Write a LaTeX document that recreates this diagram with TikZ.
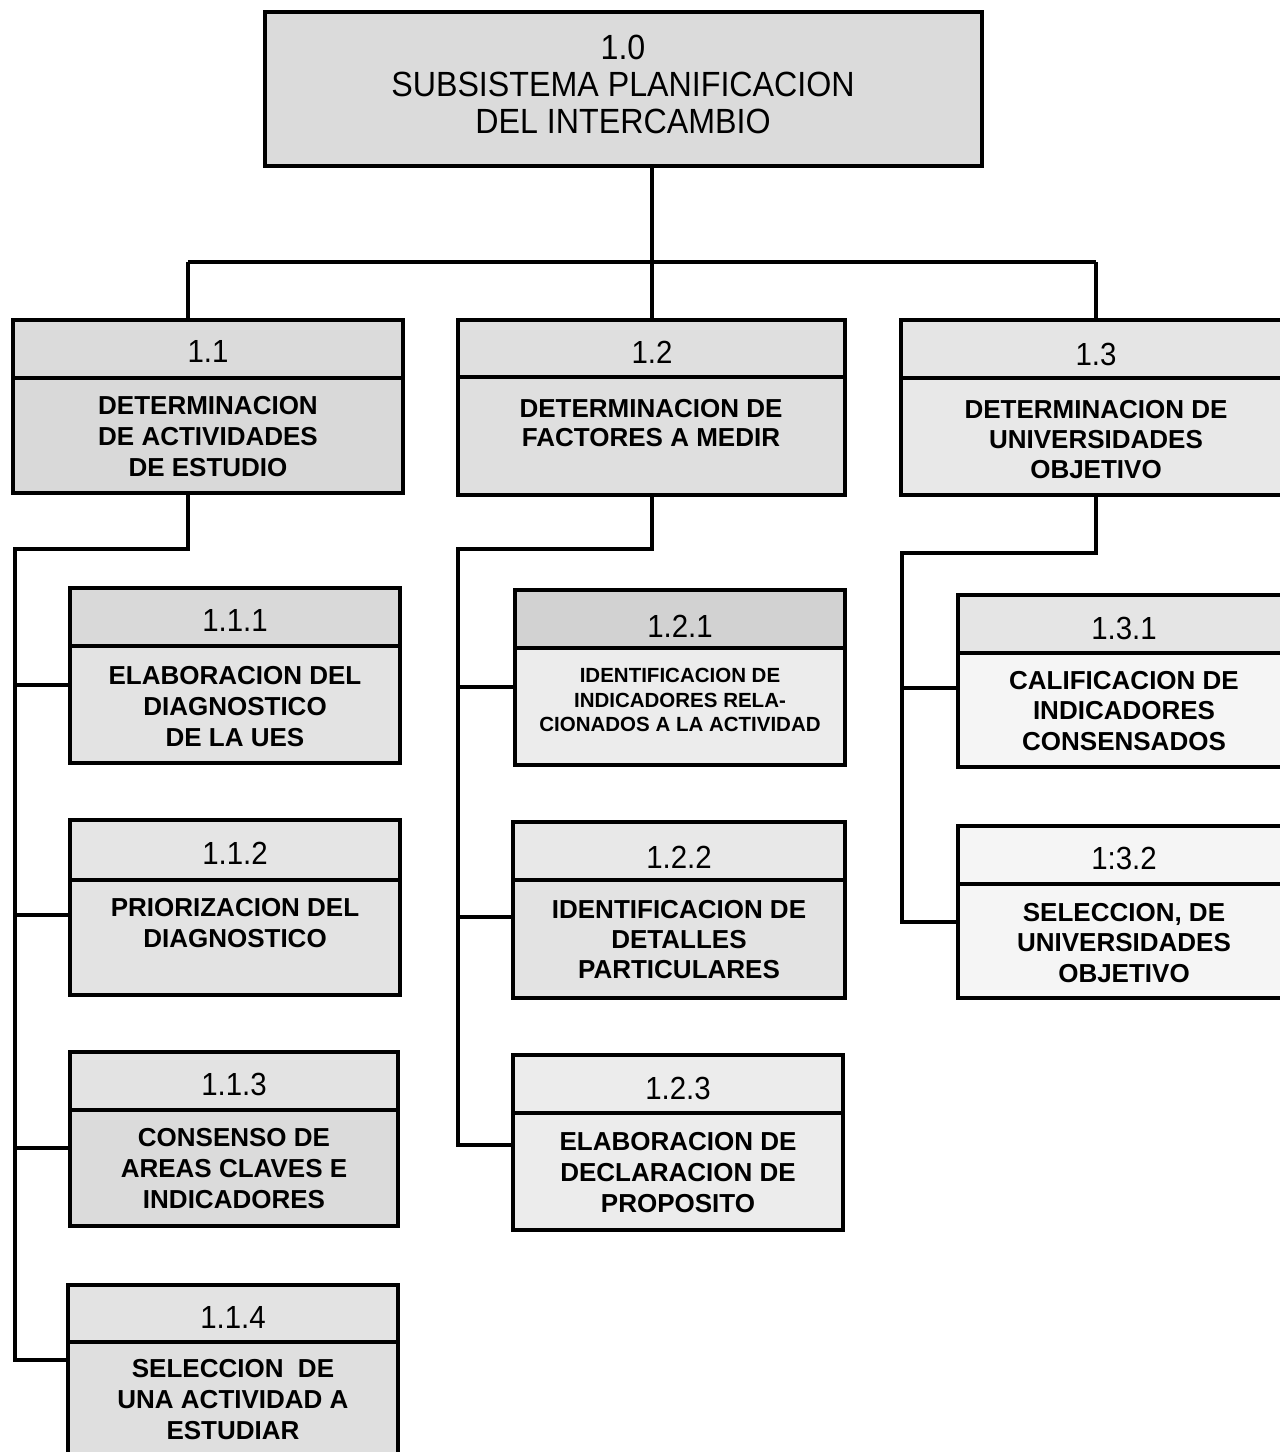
\documentclass[tikz,border=0pt]{standalone}
\usepackage{fontspec}
\setmainfont{Liberation Sans}
\newfontfamily\numfont[FakeStretch=0.92]{Liberation Sans}
\usetikzlibrary{fit}

% box with a header band and a body: name, x1, y1, x2, y2, divider y, header fill, body fill
\newcommand\wbsbox[8]{%
  \fill[#7] (#2,#3) rectangle (#4,#6);
  \fill[#8] (#2,#6) rectangle (#4,#5);
  \node[frame, fit={(#2,#3) (#4,#5)}] (#1) {};
  \draw[divider] (#1.west |- 0,#6) -- (#1.east |- 0,#6);
}

\begin{document}
\begin{tikzpicture}[x=1pt,y=-1pt,
  frame/.style={draw=black, line width=4pt, inner sep=0pt, outer sep=0pt},
  divider/.style={draw=black, line width=4pt},
  link/.style={draw=black, line width=4.5pt, line join=miter},
  num/.style={font=\numfont\fontsize{32}{36}\selectfont, inner sep=0pt},
  toptxt/.style={font=\numfont\fontsize{35}{37}\selectfont, align=center, inner sep=0pt},
  txt/.style={font=\bfseries\fontsize{26}{31}\selectfont, align=center, inner sep=0pt},
  smalltxt/.style={font=\bfseries\fontsize{20.5}{24.5}\selectfont, align=center, inner sep=0pt}]

\useasboundingbox (0,0) rectangle (1280,1452);
\fill[white] (0,0) rectangle (1280,1452);

% ---- level 0 ----
\wbsbox{b10}{265}{12}{982}{166}{166}{gray!28}{gray!28}
\node[toptxt] (b10t) at (623,84) {1.0\\SUBSISTEMA PLANIFICACION\\DEL INTERCAMBIO};

% ---- level 1 ----
\wbsbox{b11}{13}{320}{403}{493}{378}{gray!28}{gray!30}
\node[num] (b11n) at (208,351) {1.1};
\node[txt] (b11t) at (208,437) {DETERMINACION\\DE ACTIVIDADES\\DE ESTUDIO};

\wbsbox{b12}{458}{320}{845}{495}{377}{gray!25}{gray!25}
\node[num] (b12n) at (652,352) {1.2};
\node[txt, font=\bfseries\fontsize{26}{29}\selectfont] (b12t) at (651,423) {DETERMINACION DE\\FACTORES A MEDIR};

\wbsbox{b13}{901}{320}{1292}{495}{378}{gray!20}{gray!18}
\node[num] (b13n) at (1096,354) {1.3};
\node[txt, font=\bfseries\fontsize{26}{30}\selectfont] (b13t) at (1096,440) {DETERMINACION DE\\UNIVERSIDADES\\OBJETIVO};

% ---- level 2 under 1.1 ----
\wbsbox{b111}{70}{588}{400}{763}{646}{gray!30}{gray!22}
\node[num] (b111n) at (235,620) {1.1.1};
\node[txt] (b111t) at (235,707) {ELABORACION DEL\\DIAGNOSTICO\\DE LA UES};

\wbsbox{b112}{70}{820}{400}{995}{880}{gray!20}{gray!22}
\node[num] (b112n) at (235,853) {1.1.2};
\node[txt] (b112t) at (235,923) {PRIORIZACION DEL\\DIAGNOSTICO};

\wbsbox{b113}{70}{1052}{398}{1226}{1110}{gray!22}{gray!28}
\node[num] (b113n) at (234,1084) {1.1.3};
\node[txt] (b113t) at (234,1169) {CONSENSO DE\\AREAS CLAVES E\\INDICADORES};

\wbsbox{b114}{68}{1285}{398}{1475}{1342}{gray!22}{gray!25}
\node[num] (b114n) at (233,1317) {1.1.4};
\node[txt] (b114t) at (233,1400) {SELECCION\ \ DE\\UNA ACTIVIDAD A\\ESTUDIAR};

% ---- level 2 under 1.2 ----
\wbsbox{b121}{515}{590}{845}{765}{648}{gray!35}{gray!15}
\node[num] (b121n) at (680,626) {1.2.1};
\node[smalltxt] (b121t) at (680,700) {IDENTIFICACION DE\\INDICADORES RELA-\\CIONADOS A LA ACTIVIDAD};

\wbsbox{b122}{513}{822}{845}{998}{880}{gray!18}{gray!22}
\node[num] (b122n) at (679,857) {1.2.2};
\node[txt, font=\bfseries\fontsize{26}{30}\selectfont] (b122t) at (679,940) {IDENTIFICACION DE\\DETALLES\\PARTICULARES};

\wbsbox{b123}{513}{1055}{843}{1230}{1113}{gray!15}{gray!15}
\node[num] (b123n) at (678,1088) {1.2.3};
\node[txt] (b123t) at (678,1173) {ELABORACION DE\\DECLARACION DE\\PROPOSITO};

% ---- level 2 under 1.3 ----
\wbsbox{b131}{958}{595}{1292}{767}{653}{gray!20}{gray!8}
\node[num] (b131n) at (1124,628) {1.3.1};
\node[txt, font=\bfseries\fontsize{26}{30.5}\selectfont] (b131t) at (1124,711) {CALIFICACION DE\\INDICADORES\\CONSENSADOS};

\wbsbox{b132}{958}{826}{1292}{998}{884}{gray!8}{gray!8}
\node[num] (b132n) at (1124,858) {1:3.2};
\node[txt, font=\bfseries\fontsize{26}{30.5}\selectfont] (b132t) at (1124,943) {SELECCION, DE\\UNIVERSIDADES\\OBJETIVO};

% ---- connectors: level 0 to level 1 ----
\coordinate (j0) at (652,262);
\coordinate (j0l) at (188,262);
\coordinate (j0r) at (1096,262);
\draw[link] (b10.south -| j0) -- (j0);
\draw[link] (j0l) -- (j0r);
\draw[link] (j0l) -- (j0l |- b11.north);
\draw[link] (j0) -- (j0 |- b12.north);
\draw[link] (j0r) -- (j0r |- b13.north);

% ---- connectors under 1.1 ----
\coordinate (k1) at (188,549);
\coordinate (c1) at (15,549);
\coordinate (s111) at (15,685);
\coordinate (s112) at (15,915);
\coordinate (s113) at (15,1148);
\coordinate (s114) at (15,1360);
\draw[link] (k1 |- b11.south) -- (k1) -- (c1) -- (s114) -- (s114 -| b114.west);
\draw[link] (s111) -- (s111 -| b111.west);
\draw[link] (s112) -- (s112 -| b112.west);
\draw[link] (s113) -- (s113 -| b113.west);

% ---- connectors under 1.2 ----
\coordinate (k2) at (652,549);
\coordinate (c2) at (458,549);
\coordinate (s121) at (458,687);
\coordinate (s122) at (458,917);
\coordinate (s123) at (458,1145);
\draw[link] (k2 |- b12.south) -- (k2) -- (c2) -- (s123) -- (s123 -| b123.west);
\draw[link] (s121) -- (s121 -| b121.west);
\draw[link] (s122) -- (s122 -| b122.west);

% ---- connectors under 1.3 ----
\coordinate (k3) at (1096,553);
\coordinate (c3) at (902,553);
\coordinate (s131) at (902,688);
\coordinate (s132) at (902,922);
\draw[link] (k3 |- b13.south) -- (k3) -- (c3) -- (s132) -- (s132 -| b132.west);
\draw[link] (s131) -- (s131 -| b131.west);

\end{tikzpicture}
\end{document}
